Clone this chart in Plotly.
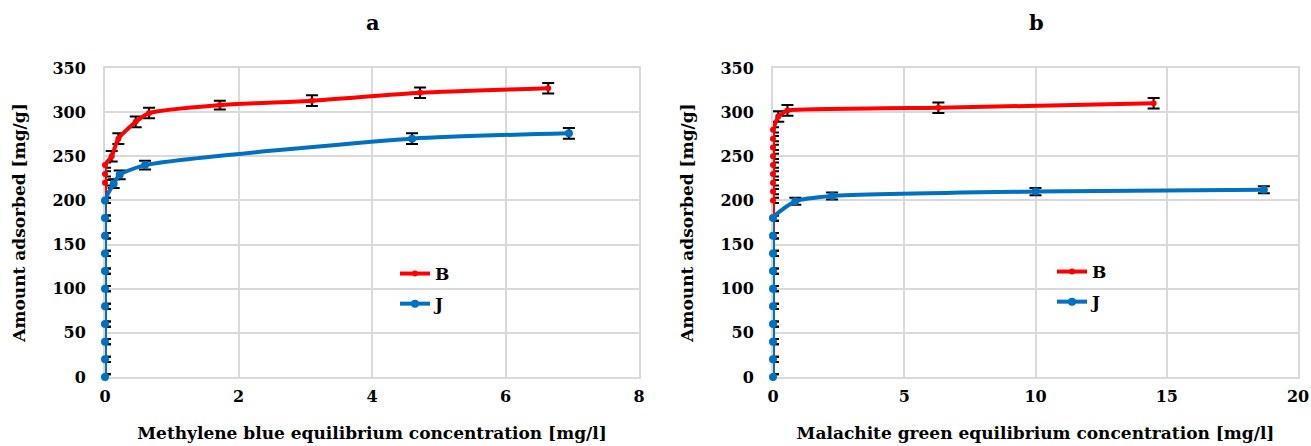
import plotly.graph_objects as go

# ---- Panel a: Methylene blue ----
a_B_x = [0]*11 + [0, 0, 0, 0.10, 0.20, 0.46, 0.66, 1.72, 3.10, 4.72, 6.64]
a_B_y = [0, 20, 40, 60, 80, 100, 120, 140, 160, 180, 200, 220, 230, 240, 250, 270, 289, 299, 308, 313, 322, 327]
a_B_e = [3]*14 + [6, 6, 6, 6, 5, 6, 6, 6]

a_J_x = [0]*11 + [0.13, 0.22, 0.60, 4.60, 6.95]
a_J_y = [0, 20, 40, 60, 80, 100, 120, 140, 160, 180, 200, 219, 229, 240, 270, 276]
a_J_e = [3]*11 + [5, 5, 5, 6, 6]

# ---- Panel b: Malachite green ----
b_B_x = [0]*10 + [0]*9 + [0.20, 0.55, 6.30, 14.50]
b_B_y = [0, 20, 40, 60, 80, 100, 120, 140, 160, 180,
         200, 210, 220, 230, 240, 250, 260, 270, 280, 295, 302, 305, 310]
b_B_e = [3]*19 + [6, 6, 6, 6]

b_J_x = [0]*10 + [0.85, 2.25, 10.0, 18.7]
b_J_y = [0, 20, 40, 60, 80, 100, 120, 140, 160, 180, 199, 205, 210, 212]
b_J_e = [3]*10 + [4, 4, 4, 4]

RED = "#FF0000"
BLUE = "#0070C0"
FONT = "DejaVu Serif"

fig = go.Figure()

def add(x, y, e, name, color, msize, xa, ya, legend, smooth):
    fig.add_trace(go.Scatter(
        x=x, y=y, name=name, mode="lines+markers",
        line=dict(color=color, width=4, shape="spline", smoothing=smooth),
        marker=dict(color=color, size=msize),
        error_y=dict(type="data", array=e, visible=True, color="black",
                     thickness=2, width=6),
        xaxis=xa, yaxis=ya, legend=legend, legendgroup=name + legend,
        cliponaxis=False,
    ))

add(a_B_x, a_B_y, a_B_e, "B", RED, 6, "x", "y", "legend", 0.6)
add(a_J_x, a_J_y, a_J_e, "J", BLUE, 8, "x", "y", "legend", 0.6)
add(b_B_x, b_B_y, b_B_e, "B", RED, 6, "x2", "y2", "legend2", 0.3)
add(b_J_x, b_J_y, b_J_e, "J", BLUE, 8, "x2", "y2", "legend2", 0.6)

tickfont = dict(family=FONT, size=16, color="black", weight="bold")
titlefont = dict(family=FONT, size=17, color="black", weight="bold")
GRID = "#d9d9d9"

yd = [69/446, 378/446]
common_x = dict(showgrid=True, gridcolor=GRID, gridwidth=2, zeroline=False,
                showline=True, mirror=True, linecolor=GRID, linewidth=2,
                tickfont=tickfont, ticks="", automargin=False, layer="below traces",
                ticklabelstandoff=4)
common_y = dict(showgrid=True, gridcolor=GRID, gridwidth=2, zeroline=False,
                showline=True, mirror=True, linecolor=GRID, linewidth=2,
                tickfont=tickfont, ticks="", range=[0, 350], dtick=50,
                automargin=False, layer="below traces", ticklabelstandoff=14,
                title=dict(text="Amount adsorbed [mg/g]", font=titlefont, standoff=22))

fig.update_layout(
    width=1311, height=446,
    margin=dict(l=0, r=0, t=0, b=0),
    paper_bgcolor="white", plot_bgcolor="white",
    font=dict(family=FONT, color="black"),
    xaxis=dict(common_x, domain=[105/1311, 639/1311], range=[0, 8], dtick=2, anchor="y",
               title=dict(text="Methylene blue equilibrium concentration [mg/l]",
                          font=titlefont, standoff=22)),
    yaxis=dict(common_y, domain=yd, anchor="x"),
    xaxis2=dict(common_x, domain=[773/1311, 1298/1311], range=[0, 20], dtick=5, anchor="y2",
                title=dict(text="Malachite green equilibrium concentration [mg/l]",
                           font=titlefont, standoff=22)),
    yaxis2=dict(common_y, domain=yd, anchor="x2"),
    legend=dict(x=395/1311, y=1-256/446, xanchor="left", yanchor="top",
                font=dict(family=FONT, size=17, color="black", weight="bold"),
                bgcolor="rgba(0,0,0,0)", traceorder="grouped", tracegroupgap=5),
    legend2=dict(x=1052/1311, y=1-254/446, xanchor="left", yanchor="top",
                 font=dict(family=FONT, size=17, color="black", weight="bold"),
                 bgcolor="rgba(0,0,0,0)", traceorder="grouped", tracegroupgap=5),
    annotations=[
        dict(text="a", x=373/1311, y=1-22/446, xref="paper", yref="paper",
             xanchor="center", yanchor="middle", showarrow=False,
             font=dict(family=FONT, size=21, color="black", weight="bold")),
        dict(text="b", x=1036/1311, y=1-22/446, xref="paper", yref="paper",
             xanchor="center", yanchor="middle", showarrow=False,
             font=dict(family=FONT, size=21, color="black", weight="bold")),
    ],
    showlegend=True,
)

fig.write_html("out.html")
